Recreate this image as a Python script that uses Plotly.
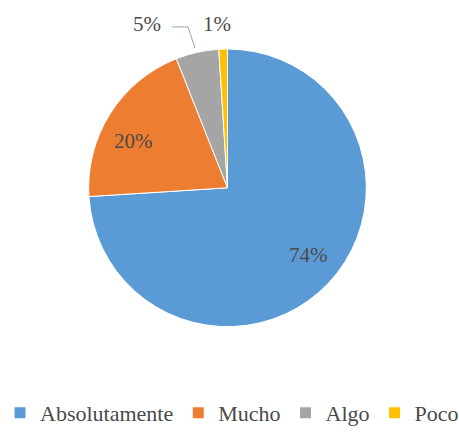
import plotly.graph_objects as go

labels = ["Absolutamente", "Mucho", "Algo", "Poco"]
values = [74, 20, 5, 1]
colors = ["#5B9BD5", "#ED7D31", "#A5A5A5", "#FFC000"]

W, H = 459, 434
cx, cy, R = 227.5, 192.5, 142.5  # target pixel centre / radius of the pie
dom_x = [(cx - R - 2) / W, (cx + R + 2) / W]
dom_y = [1 - (cy + R + 5) / H, 1 - (cy - R + 1) / H]

FONT = "Liberation Serif, Times New Roman, serif"
TXT = "#4a4a4a"

# pixel positions of the data labels as placed in the reference
label_pos = {"Absolutamente": (308, 265), "Mucho": (133, 147),
             "Algo": (147, 25), "Poco": (217, 25)}


def px2paper(x, y):
    return x / W, 1 - y / H


fig = go.Figure(go.Pie(
    labels=labels, values=values, sort=False, direction="clockwise", rotation=0,
    marker=dict(colors=colors, line=dict(color="white", width=1)),
    textinfo="none",
    domain=dict(x=dom_x, y=dom_y),
    hoverinfo="label+percent",
))

total = sum(values)
annotations = []
for lab, v in zip(labels, values):
    pct = f"{round(100 * v / total)}%"
    ax_, ay_ = px2paper(*label_pos[lab])
    annotations.append(dict(x=ax_, y=ay_, xref="paper", yref="paper",
                            xanchor="center", yanchor="middle",
                            text=pct, showarrow=False,
                            font=dict(family=FONT, size=21, color=TXT)))

p1, p2, p3 = px2paper(172, 28), px2paper(188, 28), px2paper(195, 50)
fig.update_layout(
    width=W, height=H, margin=dict(l=0, r=0, t=0, b=0),
    paper_bgcolor="white", plot_bgcolor="white",
    annotations=annotations,
    shapes=[dict(type="path", xref="paper", yref="paper",
                 path=f"M {p1[0]} {p1[1]} L {p2[0]} {p2[1]} L {p3[0]} {p3[1]}",
                 line=dict(color="#9AA7B8", width=1))],
    legend=dict(orientation="h", x=233.5 / W, xanchor="center", y=1 - 430 / H, yanchor="middle",
                font=dict(family=FONT, size=22, color=TXT),
                itemwidth=30, tracegroupgap=0),
    showlegend=True,
)
fig.write_html("out.html", config={"displayModeBar": False},
               post_script="document.body.style.margin='0';")
